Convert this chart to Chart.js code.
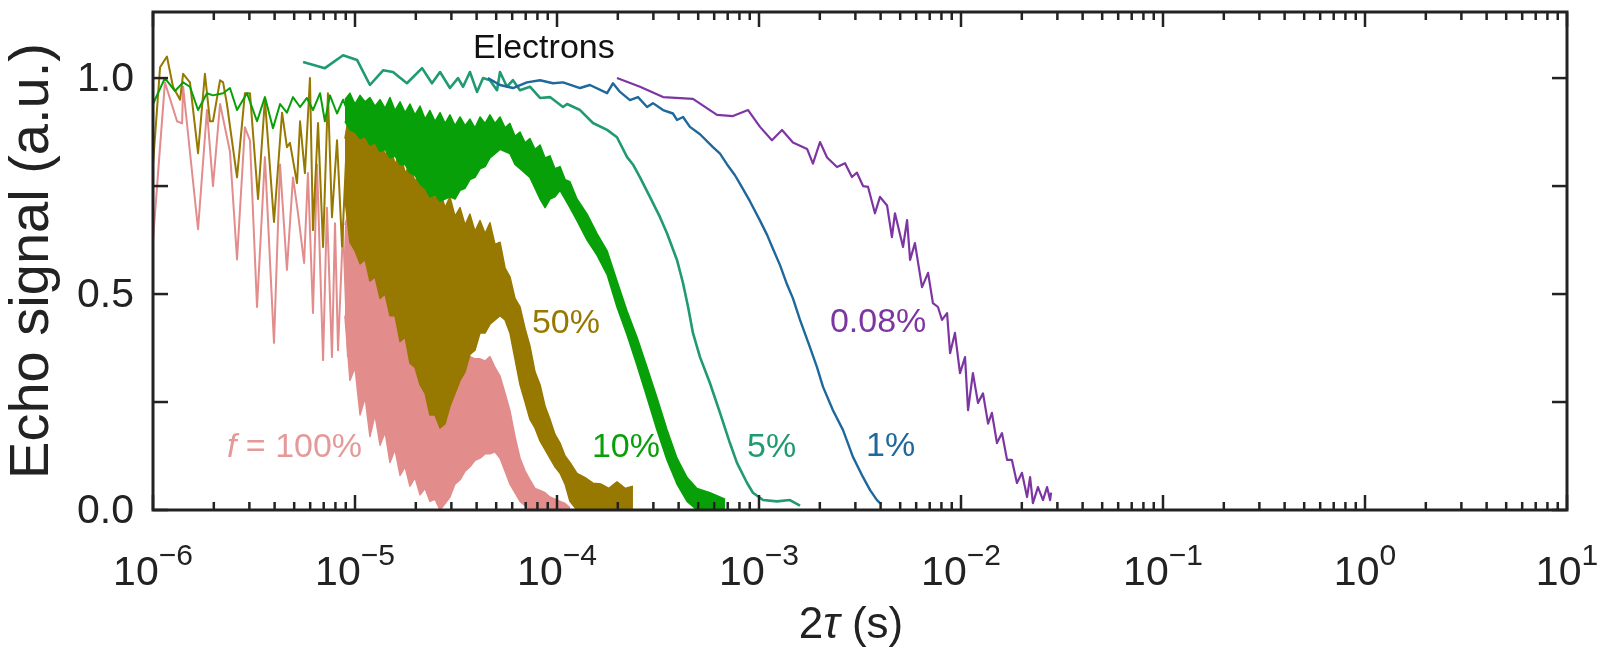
<!DOCTYPE html>
<html>
<head>
<meta charset="utf-8">
<title>Echo signal vs 2τ</title>
<script src="https://cdn.jsdelivr.net/npm/chart.js@4.4.1/dist/chart.umd.min.js"></script>
<style>
  html, body { margin: 0; padding: 0; background: #fff; }
  #wrap { width: 1610px; height: 650px; }
</style>
</head>
<body>
<div id="wrap"><canvas id="chart" width="1610" height="650"></canvas></div>
<script>
// x values are log10(2τ / s), y values are echo signal (a.u.)
const xTickExps = [-6, -5, -4, -3, -2, -1, 0, 1];
const yTicks = [0, 0.25, 0.5, 0.75, 1.0];
const yTickLabels = ['0.0', '', '0.5', '', '1.0'];

// f = 100% : sparse start, then dense band (upper / lower edge)
const pinkLogT = [-6.000, -5.941, -5.881, -5.856, -5.851, -5.777, -5.733, -5.703, -5.668, -5.619, -5.584, -5.545, -5.520, -5.485, -5.446, -5.401, -5.371, -5.337, -5.307, -5.282, -5.252, -5.233, -5.208, -5.188, -5.158, -5.139, -5.114, -5.099, -5.084, -5.059, -5.035];
const pinkSig = [0.625, 0.99, 0.90, 0.895, 0.98, 0.65, 0.926, 0.75, 0.94, 0.83, 0.58, 0.886, 0.856, 0.47, 0.817, 0.387, 0.80, 0.556, 0.77, 0.687, 0.572, 0.78, 0.456, 0.80, 0.347, 0.70, 0.354, 0.664, 0.37, 0.655, 0.354];
const pinkBandLogT = [-5.050, -5.025, -5.000, -4.975, -4.950, -4.926, -4.901, -4.876, -4.851, -4.827, -4.802, -4.777, -4.752, -4.728, -4.703, -4.678, -4.653, -4.629, -4.604, -4.579, -4.554, -4.530, -4.505, -4.480, -4.455, -4.431, -4.406, -4.381, -4.356, -4.332, -4.307, -4.282, -4.257, -4.233, -4.208, -4.183, -4.158, -4.134, -4.109, -4.084, -4.059, -4.035, -4.010, -3.985, -3.960, -3.936];
const pinkBandHi = [0.66, 0.70, 0.64, 0.63, 0.60, 0.60, 0.56, 0.55, 0.51, 0.50, 0.47, 0.46, 0.43, 0.43, 0.40, 0.40, 0.38, 0.38, 0.37, 0.37, 0.36, 0.36, 0.355, 0.36, 0.35, 0.355, 0.35, 0.35, 0.345, 0.355, 0.33, 0.31, 0.27, 0.23, 0.17, 0.12, 0.09, 0.07, 0.05, 0.045, 0.04, 0.03, 0.025, 0.02, 0.015, 0.005];
const pinkBandLo = [0.45, 0.30, 0.33, 0.22, 0.26, 0.17, 0.22, 0.15, 0.18, 0.11, 0.14, 0.08, 0.10, 0.055, 0.075, 0.035, 0.05, 0.02, 0.025, 0.0, 0.015, 0.03, 0.06, 0.07, 0.09, 0.10, 0.115, 0.12, 0.13, 0.13, 0.135, 0.12, 0.09, 0.06, 0.04, 0.02, 0.01, 0.0, 0.0, 0.0, 0.0, 0.0, 0.0, 0.0, 0.0, 0.0];

// 50%
const oliveLogT = [-6.000, -5.965, -5.931, -5.901, -5.866, -5.851, -5.817, -5.777, -5.743, -5.718, -5.703, -5.668, -5.653, -5.634, -5.584, -5.545, -5.520, -5.480, -5.446, -5.401, -5.361, -5.337, -5.322, -5.287, -5.272, -5.248, -5.223, -5.208, -5.183, -5.158, -5.134, -5.114, -5.089, -5.064, -5.040];
const oliveSig = [0.80, 1.025, 1.05, 0.98, 0.95, 1.01, 0.99, 0.826, 1.01, 0.90, 0.90, 0.995, 0.99, 0.94, 0.77, 0.965, 0.965, 0.72, 0.95, 0.667, 0.92, 0.84, 0.85, 0.757, 0.90, 0.78, 1.0, 0.648, 0.896, 0.609, 0.965, 0.678, 0.856, 0.61, 0.856];
const oliveBandLogT = [-5.050, -5.025, -5.000, -4.975, -4.950, -4.926, -4.901, -4.876, -4.851, -4.827, -4.802, -4.777, -4.752, -4.728, -4.703, -4.678, -4.653, -4.629, -4.604, -4.579, -4.554, -4.530, -4.505, -4.480, -4.455, -4.431, -4.406, -4.381, -4.356, -4.332, -4.307, -4.282, -4.257, -4.233, -4.208, -4.183, -4.158, -4.134, -4.109, -4.084, -4.059, -4.035, -4.010, -3.985, -3.960, -3.936, -3.901, -3.861, -3.822, -3.782, -3.743, -3.703, -3.663, -3.624];
const oliveBandHi = [0.86, 0.93, 0.88, 0.90, 0.86, 0.885, 0.84, 0.87, 0.82, 0.85, 0.80, 0.83, 0.78, 0.80, 0.76, 0.785, 0.735, 0.76, 0.72, 0.74, 0.70, 0.725, 0.68, 0.70, 0.66, 0.685, 0.645, 0.67, 0.64, 0.665, 0.615, 0.62, 0.56, 0.54, 0.49, 0.47, 0.42, 0.38, 0.32, 0.29, 0.24, 0.21, 0.175, 0.155, 0.125, 0.11, 0.085, 0.075, 0.062, 0.06, 0.05, 0.065, 0.05, 0.055];
const oliveBandLo = [0.72, 0.62, 0.60, 0.57, 0.58, 0.53, 0.54, 0.49, 0.50, 0.45, 0.45, 0.39, 0.40, 0.34, 0.33, 0.29, 0.27, 0.22, 0.22, 0.19, 0.20, 0.24, 0.27, 0.30, 0.32, 0.36, 0.37, 0.41, 0.41, 0.43, 0.44, 0.45, 0.44, 0.41, 0.35, 0.29, 0.25, 0.21, 0.19, 0.16, 0.14, 0.12, 0.10, 0.085, 0.06, 0.02, 0.0, 0.0, 0.0, 0.0, 0.0, 0.0, 0.0, 0.0];

// 10%
const greenLogT = [-6.000, -5.941, -5.891, -5.851, -5.817, -5.777, -5.733, -5.703, -5.653, -5.619, -5.584, -5.535, -5.485, -5.446, -5.406, -5.371, -5.337, -5.307, -5.272, -5.238, -5.208, -5.173, -5.149, -5.124, -5.089, -5.059, -5.025];
const greenSig = [0.94, 1.0, 0.97, 0.99, 0.98, 0.926, 0.965, 0.96, 0.965, 0.977, 0.926, 0.965, 0.90, 0.956, 0.884, 0.94, 0.92, 0.956, 0.933, 0.954, 0.926, 0.965, 0.90, 0.96, 0.918, 0.95, 0.91];
const greenBandLogT = [-5.050, -5.025, -5.000, -4.975, -4.950, -4.926, -4.901, -4.876, -4.851, -4.827, -4.802, -4.777, -4.752, -4.728, -4.703, -4.678, -4.653, -4.629, -4.604, -4.579, -4.554, -4.530, -4.505, -4.480, -4.455, -4.431, -4.406, -4.381, -4.356, -4.332, -4.307, -4.282, -4.257, -4.233, -4.208, -4.183, -4.158, -4.134, -4.109, -4.084, -4.059, -4.035, -4.010, -3.985, -3.960, -3.936, -3.901, -3.851, -3.802, -3.752, -3.703, -3.653, -3.604, -3.554, -3.505, -3.455, -3.406, -3.356, -3.307, -3.243, -3.168];
const greenBandHi = [0.95, 0.965, 0.94, 0.96, 0.945, 0.955, 0.935, 0.95, 0.93, 0.955, 0.925, 0.945, 0.92, 0.94, 0.915, 0.935, 0.905, 0.925, 0.90, 0.92, 0.895, 0.915, 0.89, 0.91, 0.89, 0.905, 0.885, 0.91, 0.895, 0.915, 0.895, 0.91, 0.885, 0.895, 0.865, 0.875, 0.85, 0.86, 0.835, 0.845, 0.815, 0.82, 0.79, 0.795, 0.765, 0.76, 0.72, 0.685, 0.64, 0.60, 0.53, 0.46, 0.40, 0.33, 0.26, 0.185, 0.12, 0.075, 0.05, 0.04, 0.025];
const greenBandLo = [0.90, 0.88, 0.875, 0.86, 0.865, 0.845, 0.85, 0.83, 0.835, 0.815, 0.82, 0.80, 0.80, 0.78, 0.775, 0.755, 0.745, 0.725, 0.73, 0.715, 0.72, 0.725, 0.72, 0.74, 0.745, 0.765, 0.77, 0.79, 0.795, 0.815, 0.825, 0.835, 0.83, 0.825, 0.80, 0.79, 0.78, 0.77, 0.745, 0.72, 0.70, 0.72, 0.725, 0.74, 0.72, 0.70, 0.67, 0.625, 0.59, 0.545, 0.47, 0.405, 0.335, 0.26, 0.185, 0.115, 0.06, 0.02, 0.0, 0.0, 0.0];

// 5%
const tealLogT = [-5.257, -5.149, -5.059, -4.990, -4.926, -4.861, -4.812, -4.743, -4.668, -4.619, -4.579, -4.530, -4.490, -4.465, -4.431, -4.396, -4.366, -4.332, -4.297, -4.282, -4.248, -4.218, -4.183, -4.134, -4.084, -4.035, -3.970, -3.950, -3.886, -3.822, -3.752, -3.703, -3.653, -3.624, -3.589, -3.540, -3.490, -3.455, -3.406, -3.376, -3.351, -3.327, -3.292, -3.243, -3.193, -3.144, -3.109, -3.059, -3.030, -2.980, -2.911, -2.847, -2.797];
const tealSig = [1.037, 1.023, 1.053, 1.042, 0.984, 1.018, 1.014, 0.988, 1.023, 0.988, 1.014, 0.977, 1.0, 0.98, 1.014, 0.968, 1.0, 0.995, 0.972, 1.014, 0.98, 0.995, 0.972, 0.98, 0.954, 0.956, 0.933, 0.94, 0.926, 0.896, 0.88, 0.863, 0.817, 0.80, 0.77, 0.725, 0.678, 0.64, 0.579, 0.525, 0.47, 0.41, 0.354, 0.294, 0.225, 0.155, 0.109, 0.0625, 0.04, 0.023, 0.02, 0.023, 0.01];

// 1%
const blueLogT = [-4.342, -4.282, -4.218, -4.149, -4.084, -4.020, -3.970, -3.886, -3.837, -3.752, -3.723, -3.688, -3.639, -3.599, -3.554, -3.525, -3.475, -3.426, -3.406, -3.376, -3.342, -3.292, -3.228, -3.193, -3.158, -3.119, -3.094, -3.045, -2.995, -2.960, -2.931, -2.896, -2.861, -2.832, -2.797, -2.748, -2.713, -2.683, -2.634, -2.584, -2.535, -2.485, -2.450, -2.416, -2.401];
const blueSig = [1.0, 0.984, 0.977, 0.99, 0.995, 0.988, 0.99, 0.977, 0.984, 0.965, 0.988, 0.968, 0.949, 0.956, 0.933, 0.942, 0.926, 0.918, 0.903, 0.91, 0.887, 0.87, 0.84, 0.825, 0.80, 0.775, 0.755, 0.715, 0.67, 0.637, 0.605, 0.567, 0.522, 0.49, 0.44, 0.377, 0.331, 0.285, 0.231, 0.185, 0.123, 0.076, 0.046, 0.023, 0.016];

// 0.08%
const purpleLogT = [-3.703, -3.589, -3.475, -3.327, -3.208, -3.129, -3.054, -2.995, -2.936, -2.886, -2.832, -2.762, -2.733, -2.698, -2.663, -2.614, -2.574, -2.540, -2.515, -2.485, -2.460, -2.426, -2.401, -2.366, -2.342, -2.327, -2.287, -2.267, -2.252, -2.228, -2.193, -2.163, -2.139, -2.114, -2.094, -2.069, -2.054, -2.030, -2.005, -1.980, -1.965, -1.941, -1.916, -1.891, -1.866, -1.847, -1.822, -1.797, -1.772, -1.748, -1.723, -1.698, -1.673, -1.658, -1.644, -1.619, -1.594, -1.574, -1.559, -1.554];
const purpleSig = [1.0, 0.98, 0.956, 0.952, 0.915, 0.912, 0.926, 0.887, 0.856, 0.88, 0.851, 0.836, 0.802, 0.852, 0.816, 0.794, 0.803, 0.771, 0.781, 0.75, 0.748, 0.687, 0.725, 0.705, 0.632, 0.687, 0.609, 0.671, 0.579, 0.618, 0.516, 0.549, 0.479, 0.47, 0.44, 0.456, 0.363, 0.41, 0.317, 0.354, 0.231, 0.317, 0.248, 0.27, 0.20, 0.225, 0.155, 0.178, 0.116, 0.116, 0.0625, 0.086, 0.03, 0.076, 0.016, 0.053, 0.023, 0.053, 0.023, 0.04];

const colors = {
    pink: '#e28c8c',
    olive: '#977800',
    green: '#08a008',
    teal: '#1f9a72',
    blue: '#1f689c',
    purple: '#7d35a3',
};

// curve labels, placed in data coordinates (log10 x, signal)
const curveLabels = [
    { text: '50%', lx: -4.124, y: 0.41, color: colors.olive },
    { text: '10%', lx: -3.827, y: 0.123, color: colors.green },
    { text: '5%', lx: -3.059, y: 0.123, color: colors.teal },
    { text: '1%', lx: -2.470, y: 0.125, color: colors.blue },
    { text: '0.08%', lx: -2.649, y: 0.412, color: colors.purple },
];

const pts = (logT, sig) => logT.map((l, i) => ({ x: Math.pow(10, l), y: sig[i] }));

const line = (data, color, width) => ({
    data,
    borderColor: color,
    backgroundColor: color,
    borderWidth: width,
    pointRadius: 0,
    tension: 0,
    fill: false,
    borderJoinStyle: 'round',
});

const bandHi = (logT, hi, color) => ({ ...line(pts(logT, hi), color, 1.5), fill: '+1' });
const bandLo = (logT, lo, color) => line(pts(logT, lo), color, 1.5);

// dataset 0 is drawn on top
const datasets = [
    line(pts(purpleLogT, purpleSig), colors.purple, 2.2),
    line(pts(blueLogT, blueSig), colors.blue, 2.4),
    line(pts(tealLogT, tealSig), colors.teal, 2.6),
    bandHi(greenBandLogT, greenBandHi, colors.green),
    bandLo(greenBandLogT, greenBandLo, colors.green),
    line(pts(greenLogT, greenSig), colors.green, 2),
    bandHi(oliveBandLogT, oliveBandHi, colors.olive),
    bandLo(oliveBandLogT, oliveBandLo, colors.olive),
    line(pts(oliveLogT, oliveSig), colors.olive, 2),
    bandHi(pinkBandLogT, pinkBandHi, colors.pink),
    bandLo(pinkBandLogT, pinkBandLo, colors.pink),
    line(pts(pinkLogT, pinkSig), colors.pink, 2),
];

const FONT = '"Liberation Sans", Arial, Helvetica, sans-serif';

// frame, inward ticks on all four sides, labels and titles
const axesPlugin = {
    id: 'axesPlugin',
    afterDatasetsDraw(chart) {
        const { ctx, chartArea: a, scales: { x, y } } = chart;
        ctx.save();
        ctx.strokeStyle = '#222';
        ctx.lineCap = 'butt';
        const seg = (x1, y1, x2, y2) => {
            ctx.beginPath();
            ctx.moveTo(x1, y1);
            ctx.lineTo(x2, y2);
            ctx.stroke();
        };
        ctx.lineWidth = 2.5;
        xTickExps.forEach((e, i) => {
            const px = x.getPixelForValue(Math.pow(10, e));
            seg(px, a.bottom, px, a.bottom - 15);
            seg(px, a.top, px, a.top + 15);
            if (i < xTickExps.length - 1) {
                for (let k = 2; k <= 9; k++) {
                    const mx = x.getPixelForValue(k * Math.pow(10, e));
                    seg(mx, a.bottom, mx, a.bottom - 8);
                    seg(mx, a.top, mx, a.top + 8);
                }
            }
        });
        yTicks.forEach(v => {
            const py = y.getPixelForValue(v);
            seg(a.left, py, a.left + 15, py);
            seg(a.right, py, a.right - 15, py);
        });
        ctx.lineWidth = 3;
        ctx.strokeRect(a.left, a.top, a.right - a.left, a.bottom - a.top);
        ctx.restore();
    },
    afterDraw(chart) {
        const { ctx, chartArea: a, scales: { x, y } } = chart;
        ctx.save();
        ctx.fillStyle = '#222';

        // x tick labels: 10 with superscript exponent
        xTickExps.forEach(e => {
            const px = x.getPixelForValue(Math.pow(10, e));
            const base = '10';
            const exp = e < 0 ? '\u2212' + Math.abs(e) : String(e);
            ctx.font = '41px ' + FONT;
            const wb = ctx.measureText(base).width;
            ctx.font = '30px ' + FONT;
            const we = ctx.measureText(exp).width;
            const x0 = px - (wb + we) / 2;
            ctx.textAlign = 'left';
            ctx.textBaseline = 'alphabetic';
            ctx.font = '41px ' + FONT;
            ctx.fillText(base, x0, 585);
            ctx.font = '30px ' + FONT;
            ctx.fillText(exp, x0 + wb, 565);
        });

        // y tick labels
        ctx.font = '41px ' + FONT;
        ctx.textAlign = 'right';
        ctx.textBaseline = 'middle';
        yTicks.forEach((v, i) => {
            if (yTickLabels[i]) ctx.fillText(yTickLabels[i], 134, y.getPixelForValue(v) + 2);
        });

        // y title
        ctx.save();
        ctx.translate(33, (a.top + a.bottom) / 2);
        ctx.rotate(-Math.PI / 2);
        ctx.font = '56px ' + FONT;
        ctx.textAlign = 'center';
        ctx.textBaseline = 'middle';
        ctx.fillText('Echo signal (a.u.)', 0, 0);
        ctx.restore();

        // x title: 2τ (s)
        const parts = [
            { t: '2', f: '44px ' + FONT },
            { t: '\u03c4', f: 'italic 44px ' + FONT },
            { t: ' (s)', f: '44px ' + FONT },
        ];
        let total = 0;
        parts.forEach(p => { ctx.font = p.f; p.w = ctx.measureText(p.t).width; total += p.w; });
        let cx = 851 - total / 2;
        ctx.textAlign = 'left';
        ctx.textBaseline = 'alphabetic';
        parts.forEach(p => { ctx.font = p.f; ctx.fillText(p.t, cx, 638); cx += p.w; });

        // Electrons
        ctx.fillStyle = '#111';
        ctx.font = '34px ' + FONT;
        ctx.fillText('Electrons', x.getPixelForValue(Math.pow(10, -4.416)), y.getPixelForValue(1.046));

        // curve labels
        curveLabels.forEach(l => {
            ctx.fillStyle = l.color;
            ctx.fillText(l.text, x.getPixelForValue(Math.pow(10, l.lx)), y.getPixelForValue(l.y));
        });

        // f = 100%
        ctx.fillStyle = '#e59a9a';
        let fx = x.getPixelForValue(Math.pow(10, -5.634));
        const fy = y.getPixelForValue(0.123);
        ctx.font = 'italic 34px ' + FONT;
        ctx.fillText('f', fx, fy);
        fx += ctx.measureText('f').width;
        ctx.font = '34px ' + FONT;
        ctx.fillText(' = 100%', fx, fy);

        ctx.restore();
    },
};

const chart = new Chart(document.getElementById('chart'), {
    type: 'line',
    data: { datasets },
    options: {
        responsive: false,
        animation: false,
        devicePixelRatio: 1,
        layout: { padding: { left: 153, right: 43, top: 12, bottom: 140 } },
        plugins: {
            legend: { display: false },
            tooltip: { enabled: false },
        },
        scales: {
            x: { type: 'logarithmic', min: 1e-6, max: 10, display: false },
            y: { type: 'linear', min: 0, max: 1.153, display: false },
        },
    },
    plugins: [axesPlugin],
});
</script>
</body>
</html>
